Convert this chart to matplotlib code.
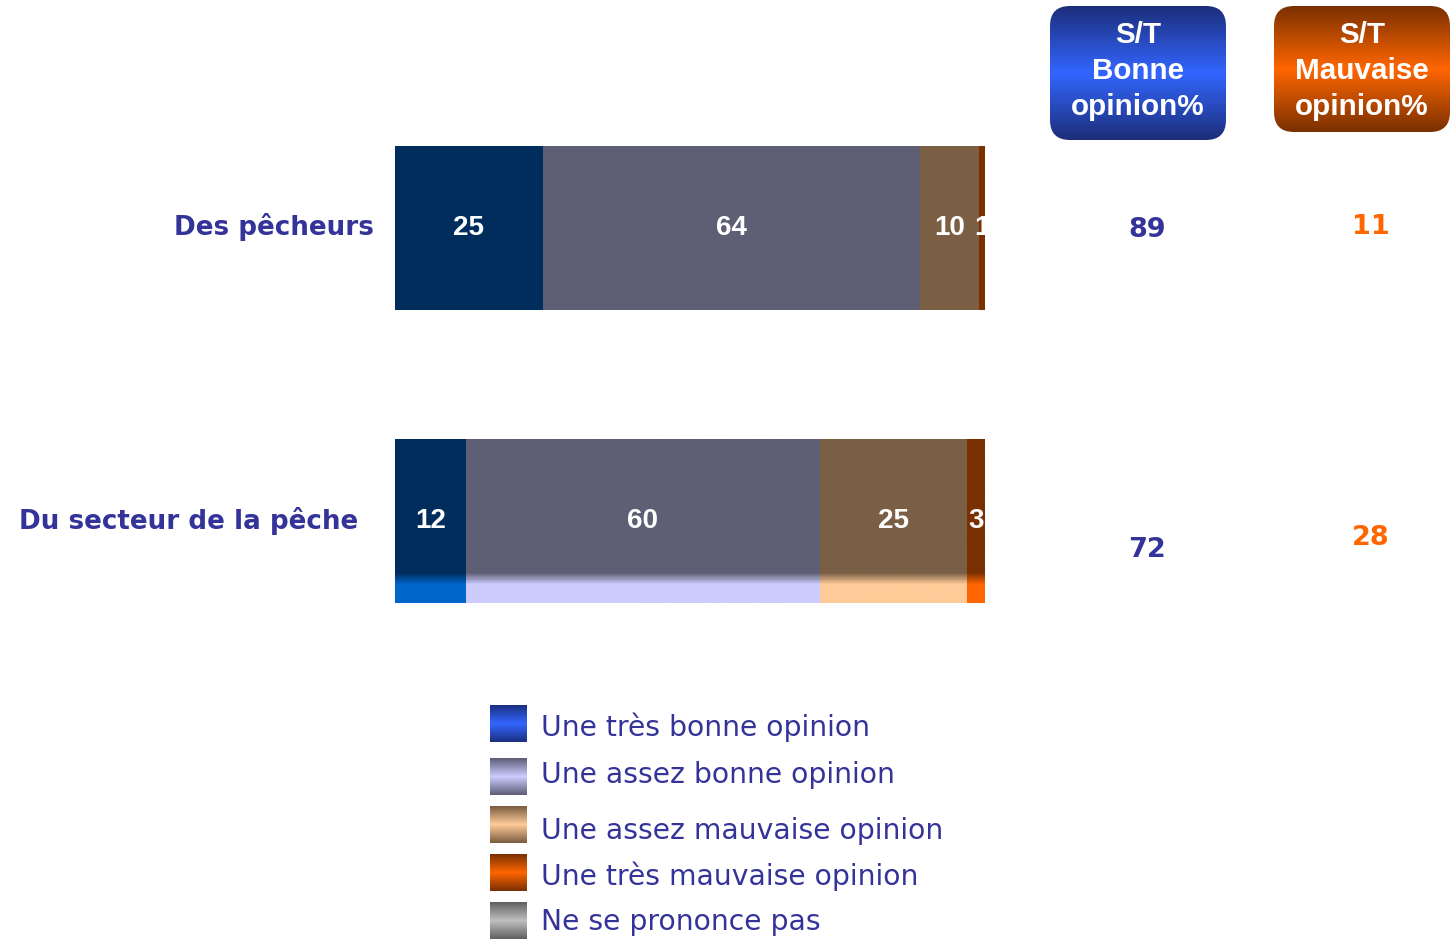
import numpy as np
import matplotlib.pyplot as plt
from matplotlib.colors import LinearSegmentedColormap
from matplotlib.patches import FancyBboxPatch

# data
categories = ['Des pêcheurs', 'Du secteur de la pêche']
tres_bonne = [25, 12]
assez_bonne = [64, 60]
assez_mauvaise = [10, 25]
tres_mauvaise = [1, 3]
st_bonne = [89, 72]
st_mauvaise = [11, 28]
series_labels = ['Une très bonne opinion', 'Une assez bonne opinion',
                 'Une assez mauvaise opinion', 'Une très mauvaise opinion',
                 'Ne se prononce pas']

# styles
dark_cols = ['#002d5c', '#5e5e75', '#7a5f45', '#7a3000']
light_cols = ['#0066cc', '#ccccff', '#ffcc99', '#ff6600']
sw_edge = ['#1a2f80', '#5e5e78', '#7a5c40', '#7a3000', '#606060']
sw_mid = ['#3366ff', '#ccccff', '#ffcc99', '#ff6600', '#c0c0c0']
txt_blue = '#333399'
txt_orange = '#ff6600'

W, H = 1450, 939
fig = plt.figure(figsize=(W / 100, H / 100), dpi=100)

# bar axes: 0..100 maps to px 395..985
ax = fig.add_axes([395 / W, 0, 590 / W, 1])
ax.axis('off')

series = [tres_bonne, assez_bonne, assez_mauvaise, tres_mauvaise]
ypos = np.arange(len(categories))
left = np.zeros(len(categories))
bar_h = 0.56
patches = []
for s, vals in enumerate(series):
    bars = ax.barh(ypos, vals, left=left, height=bar_h, color=dark_cols[s], linewidth=0)
    patches.append(bars)
    for i, v in enumerate(vals):
        ax.text(left[i] + v / 2, ypos[i], str(v), color='white', ha='center', va='center',
                fontsize=20, fontweight='bold', family='Liberation Sans', zorder=5)
    left += np.array(vals)

# lighter band at the bottom of the second bar
for s, bars in enumerate(patches):
    p = bars[1]
    x0, y0 = p.get_x(), p.get_y()
    w, h = p.get_width(), p.get_height()
    cmap = LinearSegmentedColormap.from_list(
        'b', [(0, dark_cols[s]), (0.82, dark_cols[s]), (0.89, light_cols[s]), (1, light_cols[s])])
    grad = np.linspace(0, 1, 200).reshape(-1, 1)
    im = ax.imshow(grad, cmap=cmap, aspect='auto', extent=(x0, x0 + w, y0 + h, y0),
                   origin='upper', zorder=2)
    im.set_clip_path(p)
ax.set_xlim(0, 100)
ax.set_ylim((H - 228) / 293, -228 / 293)

# overlay in pixel coordinates
ov = fig.add_axes([0, 0, 1, 1])
ov.axis('off')

cat_right = [374, 358]
cat_y = [227, 521]
for i, c in enumerate(categories):
    ov.text(cat_right[i], cat_y[i], c, ha='right', va='center', color=txt_blue,
            fontsize=18.8, fontweight='bold', family='DejaVu Sans')

bonne_y = [230, 550]
mauv_y = [227, 538]
for i in range(len(categories)):
    ov.text(1147, bonne_y[i], str(st_bonne[i]), ha='center', va='center', color=txt_blue,
            fontsize=19.5, fontweight='bold', family='DejaVu Sans')
    ov.text(1371, mauv_y[i], str(st_mauvaise[i]), ha='center', va='center', color=txt_orange,
            fontsize=19.5, fontweight='bold', family='DejaVu Sans')

# header boxes
headers = [('S/T\nBonne\nopinion%', (1050, 6, 176, 134), '#1c2e7a', '#3366ff'),
           ('S/T\nMauvaise\nopinion%', (1274, 6, 176, 126), '#7a3000', '#ff6600')]
for label, (x, y, w, h), ce, cm in headers:
    box = FancyBboxPatch((x, y), w, h, boxstyle='round,pad=0,rounding_size=20',
                         facecolor='none', edgecolor='none')
    ov.add_patch(box)
    cmap = LinearSegmentedColormap.from_list('h', [(0, ce), (0.5, cm), (1, ce)])
    im = ov.imshow(np.linspace(0, 1, 200).reshape(-1, 1), cmap=cmap, aspect='auto',
                   extent=(x, x + w, y + h, y), origin='upper')
    im.set_clip_path(box)
    ov.text(x + w / 2, 71, label, ha='center', va='center', color='white',
            fontsize=21.3, fontweight='bold', family='Liberation Sans', linespacing=1.35)

# legend
sw_top = [705, 758, 806, 854, 902]
txt_y = [727, 775, 831, 876, 922]
for k, lab in enumerate(series_labels):
    cmap = LinearSegmentedColormap.from_list('s', [(0, sw_edge[k]), (0.5, sw_mid[k]), (1, sw_edge[k])])
    ov.imshow(np.linspace(0, 1, 100).reshape(-1, 1), cmap=cmap, aspect='auto',
              extent=(490, 527, sw_top[k] + 37, sw_top[k]), origin='upper')
    ov.text(541, txt_y[k], lab, ha='left', va='center', color=txt_blue,
            fontsize=20.3, family='DejaVu Sans')

ov.set_xlim(0, W)
ov.set_ylim(H, 0)

fig.savefig('out.png', dpi=100)
